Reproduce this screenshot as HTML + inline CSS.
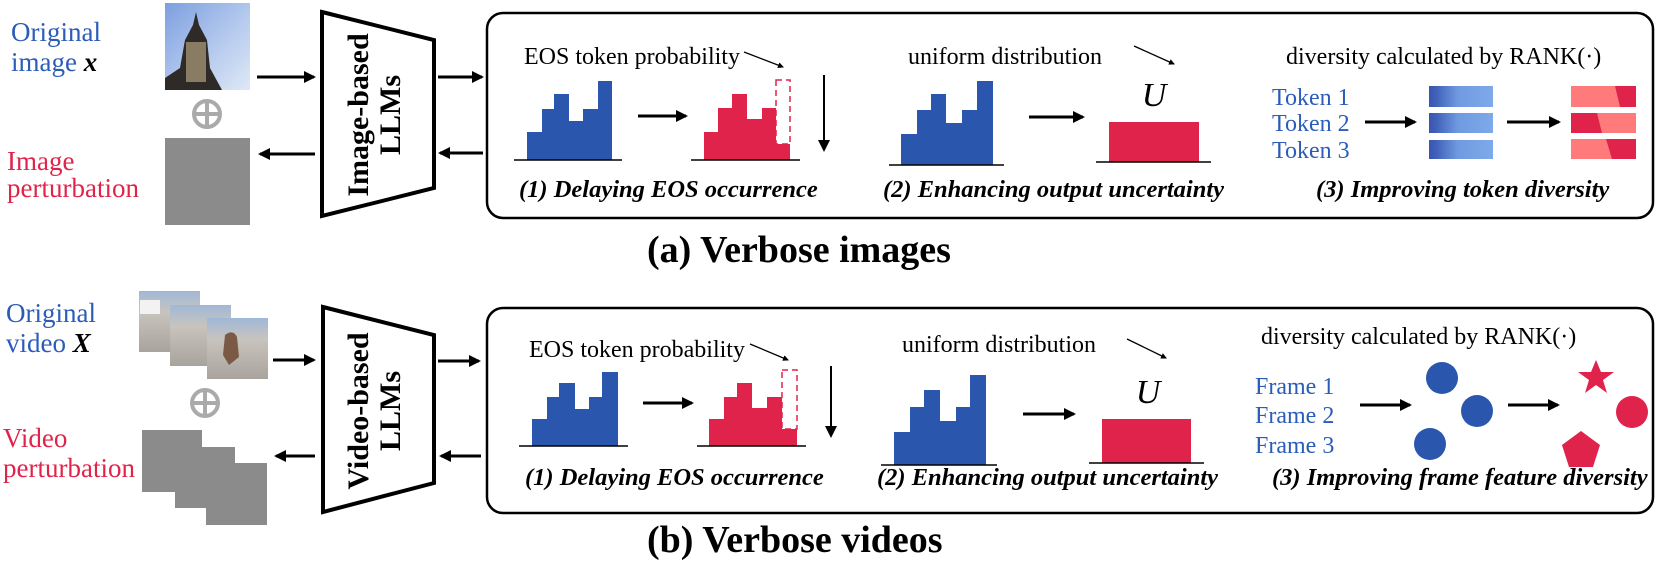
<!DOCTYPE html>
<html><head><meta charset="utf-8"><style>
html,body{margin:0;padding:0;background:#fff}
svg{display:block}
text{font-family:"Liberation Serif",serif}
.bi{font-weight:bold;font-style:italic;font-size:24.5px}
.lab{font-size:24px}
.tok{font-size:24px}
</style></head><body>
<svg width="1660" height="568" viewBox="0 0 1660 568" xmlns="http://www.w3.org/2000/svg">
<defs>
<marker id="ah" markerWidth="12" markerHeight="12" refX="10" refY="6" orient="auto" markerUnits="userSpaceOnUse"><path d="M0,0 L12,6 L0,12 z" fill="#000"/></marker>
<marker id="as" markerWidth="6" markerHeight="6" refX="5" refY="3" orient="auto" markerUnits="userSpaceOnUse"><path d="M0,0 L6,3 L0,6 z" fill="#000"/></marker>
<linearGradient id="sky" x1="0" y1="0" x2="1" y2="1"><stop offset="0" stop-color="#7d9fe0"/><stop offset="0.6" stop-color="#b9cdee"/><stop offset="1" stop-color="#dfe8f6"/></linearGradient>
<linearGradient id="bb" x1="0" y1="0" x2="1" y2="0"><stop offset="0" stop-color="#3a55b0"/><stop offset="0.1" stop-color="#3f5fb8"/><stop offset="0.45" stop-color="#6f9ae0"/><stop offset="1" stop-color="#7eaaea"/></linearGradient>
<linearGradient id="vid" x1="0" y1="0" x2="0" y2="1"><stop offset="0" stop-color="#9fb8d8"/><stop offset="0.35" stop-color="#c8c4bd"/><stop offset="1" stop-color="#a8a39c"/></linearGradient>
</defs>

<!-- ===== TOP ROW ===== -->
<text x="11" y="41" font-size="27" fill="#2b5cb8">Original</text>
<text x="11" y="71" font-size="27" fill="#2b5cb8">image <tspan font-weight="bold" font-style="italic" fill="#000">x</tspan></text>
<text x="7" y="170" font-size="27" fill="#e0234a">Image</text>
<text x="7" y="197" font-size="27" fill="#e0234a">perturbation</text>

<rect x="165" y="3" width="85" height="87" fill="url(#sky)"/>
<path d="M165,78 L180,68 L185,40 L193,25 L196,12 L199,25 L207,40 L210,68 L222,90 L165,90 z" fill="#2e2a28"/>
<rect x="186" y="42" width="20" height="40" fill="#8a7c62"/>
<circle cx="207" cy="114" r="13" fill="none" stroke="#aaa" stroke-width="4"/>
<line x1="194" y1="114" x2="220" y2="114" stroke="#aaa" stroke-width="4"/>
<line x1="207" y1="101" x2="207" y2="127" stroke="#aaa" stroke-width="4"/>
<rect x="165" y="138" width="85" height="87" fill="#8b8b8b"/>

<line x1="257" y1="77" x2="314" y2="77" stroke="#000" stroke-width="3" marker-end="url(#ah)"/>
<line x1="315" y1="154" x2="260" y2="154" stroke="#000" stroke-width="3" marker-end="url(#ah)"/>

<polygon points="322,12 434,40 434,188 322,216" fill="#fff" stroke="#000" stroke-width="4"/>
<text transform="translate(368,115) rotate(-90)" text-anchor="middle" font-size="30" font-weight="bold">Image-based</text>
<text transform="translate(400,115) rotate(-90)" text-anchor="middle" font-size="30" font-weight="bold">LLMs</text>

<line x1="438" y1="77" x2="482" y2="77" stroke="#000" stroke-width="3" marker-end="url(#ah)"/>
<line x1="483" y1="153" x2="440" y2="153" stroke="#000" stroke-width="3" marker-end="url(#ah)"/>

<rect x="487" y="13" width="1166" height="205" rx="16" fill="none" stroke="#000" stroke-width="2.5"/>

<!-- panel 1 -->
<text x="524" y="64" class="lab">EOS token probability</text>
<line x1="744" y1="52" x2="783" y2="67" stroke="#000" stroke-width="1.3" marker-end="url(#as)"/>
<path d="M527,160 V132 H542 V109 H554 V94 H569 V121 H583 V109 H598 V81 H612 V160 z" fill="#2a57ad"/>
<line x1="514" y1="160" x2="622" y2="160" stroke="#000" stroke-width="1.5"/>
<line x1="638" y1="116" x2="686" y2="116" stroke="#000" stroke-width="3" marker-end="url(#ah)"/>
<path d="M704,160 V132 H718 V108 H732 V94 H747 V119 H762 V108 H776 V144 H790 V160 z" fill="#e0234a"/>
<rect x="776" y="80" width="14" height="64" fill="none" stroke="#e0234a" stroke-width="1.5" stroke-dasharray="6,4"/>
<line x1="691" y1="160" x2="800" y2="160" stroke="#000" stroke-width="1.5"/>
<line x1="824" y1="75" x2="824" y2="150" stroke="#000" stroke-width="2" marker-end="url(#ah)"/>
<text x="519" y="197" class="bi">(1) Delaying EOS occurrence</text>

<!-- panel 2 -->
<text x="908" y="64" class="lab">uniform distribution</text>
<line x1="1134" y1="46" x2="1174" y2="64" stroke="#000" stroke-width="1.3" marker-end="url(#as)"/>
<path d="M901,165 V134 H917 V110 H931 V94 H946 V123 H962 V110 H977 V81 H993 V165 z" fill="#2a57ad"/>
<line x1="889" y1="165" x2="1004" y2="165" stroke="#000" stroke-width="1.5"/>
<line x1="1029" y1="117" x2="1083" y2="117" stroke="#000" stroke-width="3" marker-end="url(#ah)"/>
<text x="1154" y="106" text-anchor="middle" font-size="34" font-style="italic">U</text>
<rect x="1109" y="122" width="90" height="40" fill="#e0234a"/>
<line x1="1096" y1="162" x2="1211" y2="162" stroke="#000" stroke-width="1.5"/>
<text x="883" y="197" class="bi">(2) Enhancing output uncertainty</text>

<!-- panel 3 -->
<text x="1286" y="64" class="lab">diversity calculated by RANK(·)</text>
<text x="1272" y="105" class="tok" fill="#2b5cb8">Token 1</text>
<text x="1272" y="131" class="tok" fill="#2b5cb8">Token 2</text>
<text x="1272" y="158" class="tok" fill="#2b5cb8">Token 3</text>
<line x1="1365" y1="122" x2="1415" y2="122" stroke="#000" stroke-width="3" marker-end="url(#ah)"/>
<rect x="1429" y="86" width="64" height="21" fill="url(#bb)"/>
<rect x="1429" y="113" width="64" height="20" fill="url(#bb)"/>
<rect x="1429" y="140" width="64" height="19" fill="url(#bb)"/>
<line x1="1507" y1="122" x2="1559" y2="122" stroke="#000" stroke-width="3" marker-end="url(#ah)"/>
<rect x="1571" y="86" width="65" height="21" fill="#ff7b7b"/>
<polygon points="1615,86 1636,86 1636,107 1620,107" fill="#e0234a"/>
<rect x="1571" y="113" width="65" height="20" fill="#ff7b7b"/>
<polygon points="1571,113 1597,113 1602,133 1571,133" fill="#e0234a"/>
<rect x="1571" y="139" width="65" height="20" fill="#ff7b7b"/>
<polygon points="1606,139 1636,139 1636,159 1612,159" fill="#e0234a"/>
<text x="1316" y="197" class="bi">(3) Improving token diversity</text>

<text x="647" y="262" font-size="38" font-weight="bold">(a) Verbose images</text>

<!-- ===== BOTTOM ROW ===== -->
<text x="6" y="322" font-size="27" fill="#2b5cb8">Original</text>
<text x="6" y="352" font-size="27" fill="#2b5cb8">video <tspan font-weight="bold" font-style="italic" fill="#000">X</tspan></text>
<text x="3" y="447" font-size="27" fill="#e0234a">Video</text>
<text x="3" y="477" font-size="27" fill="#e0234a">perturbation</text>

<rect x="139" y="291" width="61" height="61" fill="url(#vid)"/>
<rect x="140" y="300" width="20" height="14" fill="#f2f2f2"/>
<rect x="170" y="305" width="61" height="61" fill="url(#vid)"/>
<rect x="207" y="318" width="61" height="61" fill="url(#vid)"/>
<path d="M225,335 q8,-6 12,2 l2,20 l-10,8 l-6,-10 z" fill="#7a5a45"/>
<circle cx="205" cy="403" r="13" fill="none" stroke="#aaa" stroke-width="4"/>
<line x1="192" y1="403" x2="218" y2="403" stroke="#aaa" stroke-width="4"/>
<line x1="205" y1="390" x2="205" y2="416" stroke="#aaa" stroke-width="4"/>
<rect x="142" y="430" width="60" height="62" fill="#8b8b8b"/>
<rect x="175" y="447" width="60" height="61" fill="#8b8b8b"/>
<rect x="206" y="463" width="61" height="62" fill="#8b8b8b"/>

<line x1="273" y1="360" x2="314" y2="360" stroke="#000" stroke-width="3" marker-end="url(#ah)"/>
<line x1="315" y1="456" x2="276" y2="456" stroke="#000" stroke-width="3" marker-end="url(#ah)"/>

<polygon points="323,307 434,335 434,483 323,512" fill="#fff" stroke="#000" stroke-width="4"/>
<text transform="translate(368,411) rotate(-90)" text-anchor="middle" font-size="30" font-weight="bold">Video-based</text>
<text transform="translate(400,411) rotate(-90)" text-anchor="middle" font-size="30" font-weight="bold">LLMs</text>

<line x1="438" y1="361" x2="479" y2="361" stroke="#000" stroke-width="3" marker-end="url(#ah)"/>
<line x1="481" y1="456" x2="441" y2="456" stroke="#000" stroke-width="3" marker-end="url(#ah)"/>

<rect x="487" y="308" width="1166" height="205" rx="16" fill="none" stroke="#000" stroke-width="2.5"/>

<!-- panel 1 -->
<text x="529" y="357" class="lab">EOS token probability</text>
<line x1="750" y1="344" x2="788" y2="360" stroke="#000" stroke-width="1.3" marker-end="url(#as)"/>
<path d="M532,446 V419 H547 V397 H559 V383 H575 V409 H589 V397 H602 V372 H618 V446 z" fill="#2a57ad"/>
<line x1="519" y1="446" x2="628" y2="446" stroke="#000" stroke-width="1.5"/>
<line x1="643" y1="403" x2="692" y2="403" stroke="#000" stroke-width="3" marker-end="url(#ah)"/>
<path d="M709,446 V419 H724 V397 H737 V383 H752 V408 H767 V397 H782 V429 H797 V446 z" fill="#e0234a"/>
<rect x="782" y="370" width="15" height="59" fill="none" stroke="#e0234a" stroke-width="1.5" stroke-dasharray="6,4"/>
<line x1="697" y1="446" x2="806" y2="446" stroke="#000" stroke-width="1.5"/>
<line x1="831" y1="366" x2="831" y2="436" stroke="#000" stroke-width="2" marker-end="url(#ah)"/>
<text x="525" y="485" class="bi">(1) Delaying EOS occurrence</text>

<!-- panel 2 -->
<text x="902" y="352" class="lab">uniform distribution</text>
<line x1="1127" y1="339" x2="1166" y2="358" stroke="#000" stroke-width="1.3" marker-end="url(#as)"/>
<path d="M894,465 V432 H910 V407 H924 V390 H940 V421 H956 V407 H970 V375 H986 V465 z" fill="#2a57ad"/>
<line x1="881" y1="465" x2="997" y2="465" stroke="#000" stroke-width="1.5"/>
<line x1="1023" y1="414" x2="1074" y2="414" stroke="#000" stroke-width="3" marker-end="url(#ah)"/>
<text x="1148" y="403" text-anchor="middle" font-size="34" font-style="italic">U</text>
<rect x="1102" y="419" width="89" height="44" fill="#e0234a"/>
<line x1="1089" y1="463" x2="1204" y2="463" stroke="#000" stroke-width="1.5"/>
<text x="877" y="485" class="bi">(2) Enhancing output uncertainty</text>

<!-- panel 3 -->
<text x="1261" y="344" class="lab">diversity calculated by RANK(·)</text>
<text x="1255" y="394" class="tok" fill="#2b5cb8">Frame 1</text>
<text x="1255" y="423" class="tok" fill="#2b5cb8">Frame 2</text>
<text x="1255" y="453" class="tok" fill="#2b5cb8">Frame 3</text>
<line x1="1360" y1="405" x2="1410" y2="405" stroke="#000" stroke-width="3" marker-end="url(#ah)"/>
<circle cx="1442" cy="378" r="16" fill="#2a57ad"/>
<circle cx="1477" cy="411" r="16" fill="#2a57ad"/>
<circle cx="1430" cy="444" r="16" fill="#2a57ad"/>
<line x1="1508" y1="405" x2="1558" y2="405" stroke="#000" stroke-width="3" marker-end="url(#ah)"/>
<polygon points="1596,360 1601,372 1614,372 1603,380 1607,393 1596,385 1585,393 1589,380 1578,372 1591,372" fill="#e0234a"/>
<circle cx="1632" cy="412" r="16" fill="#e0234a"/>
<polygon points="1581,431 1600,445 1593,467 1569,467 1562,445" fill="#e0234a"/>
<text x="1272" y="485" class="bi">(3) Improving frame feature diversity</text>

<text x="647" y="552" font-size="38" font-weight="bold">(b) Verbose videos</text>
</svg>
</body></html>
